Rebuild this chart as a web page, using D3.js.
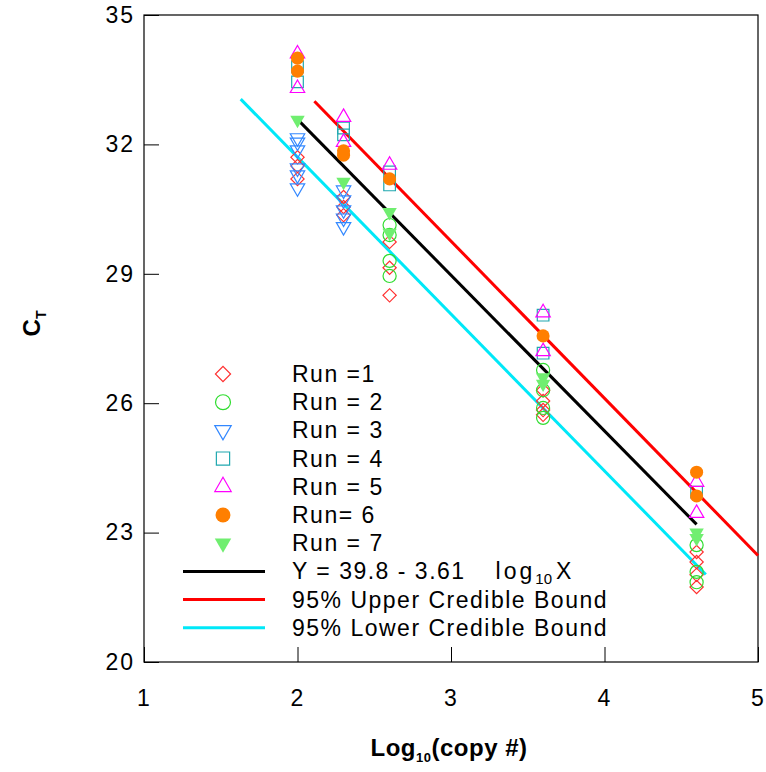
<!DOCTYPE html>
<html>
<head>
<meta charset="utf-8">
<script src="https://cdn.jsdelivr.net/npm/d3@7"></script>
<style>
  body { margin: 0; background: #fff; }
  text { font-family: "Liberation Sans", Arial, Helvetica, sans-serif; }
</style>
</head>
<body>
<div id="chart"></div>
<script>
// data: [log10(copy #), Ct]
var run1 = [[2, 31.7], [2, 31.5], [2, 31.2], [2.3, 30.78], [2.3, 30.55], [2.3, 30.36],
            [2.6, 29.74], [2.6, 29.14], [2.6, 28.5], [3.6, 26.3], [3.6, 26.05], [3.6, 25.84],
            [3.6, 25.73], [4.6, 22.55], [4.6, 22.32], [4.6, 22.02], [4.6, 21.74]];
var run2 = [[2.6, 30.13], [2.6, 29.9], [2.6, 29.3], [2.6, 28.95], [3.6, 26.77], [3.6, 26.3],
            [3.6, 25.89], [3.6, 25.66], [4.6, 22.71], [4.6, 22.09], [4.6, 21.85]];
var run3 = [[2, 32.15], [2, 32.05], [2, 31.87], [2, 31.45], [2, 31.29], [2, 30.99],
            [2.3, 30.94], [2.3, 30.71], [2.3, 30.48], [2.3, 30.29], [2.3, 30.09]];
var run4 = [[2, 33.8], [2, 33.45], [2.3, 32.38], [2.3, 32.22], [2.6, 31.36], [2.6, 31.06],
            [3.6, 28.04], [3.6, 27.16], [4.6, 23.94]];
var run5 = [[2, 34.1], [2, 33.3], [2.3, 32.63], [2.3, 32.05], [2.6, 31.52], [3.6, 28.1],
            [3.6, 27.2], [4.6, 24.17], [4.6, 23.45]];
var run6 = [[2, 34.0], [2, 33.7], [2.3, 31.85], [2.3, 31.75], [2.6, 31.2], [3.6, 27.56],
            [4.6, 24.4], [4.6, 23.85]];
var run7 = [[2, 32.57], [2.3, 31.13], [2.6, 30.43], [2.6, 29.95], [3.6, 26.6], [3.6, 26.45],
            [4.6, 23.0], [4.6, 22.87]];

var fitLine = [[2, 32.58], [4.6, 23.19]];
var upperBound = [[2.11, 33.0], [5, 22.47]];
var lowerBound = [[1.63, 33.05], [4.66, 22.03]];

var xTicks = [1, 2, 3, 4, 5];
var yTicks = [20, 23, 26, 29, 32, 35];

var runs = [
  {name: "Run =1", data: run1, shape: "diamond", color: "#ff3030", fill: false},
  {name: "Run = 2", data: run2, shape: "circle", color: "#30dd30", fill: false},
  {name: "Run = 3", data: run3, shape: "down", color: "#3388ff", fill: false},
  {name: "Run = 4", data: run4, shape: "square", color: "#20a8b0", fill: false},
  {name: "Run = 5", data: run5, shape: "up", color: "#ff00ff", fill: false},
  {name: "Run= 6", data: run6, shape: "circle", color: "#ff7f00", fill: true},
  {name: "Run = 7", data: run7, shape: "down", color: "#70ee70", fill: true}
];
var lines = [
  {name: "fit", data: fitLine, color: "#000000"},
  {name: "95% Upper Credible Bound", data: upperBound, color: "#ff0000"},
  {name: "95% Lower Credible Bound", data: lowerBound, color: "#00e8f8"}
];

var margin = {top: 15, right: 8, bottom: 110, left: 144},
    width = 766 - margin.left - margin.right,
    height = 772 - margin.top - margin.bottom;

var svg = d3.select("#chart")
  .append("svg")
    .attr("width", 766)
    .attr("height", 772)
  .append("g")
    .attr("transform", "translate(" + margin.left + "," + margin.top + ")");

var x = d3.scaleLinear().domain([1, 5]).range([0, width]);
var y = d3.scaleLinear().domain([20, 35]).range([height, 0]);

// axes with inward ticks
var xAxis = svg.append("g")
  .attr("transform", "translate(0," + height + ")")
  .call(d3.axisBottom(x).tickValues(xTicks).tickSize(-15).tickPadding(28).tickFormat(d3.format("d")));
var yAxis = svg.append("g")
  .call(d3.axisLeft(y).tickValues(yTicks).tickSize(-15).tickPadding(9).tickFormat(d3.format("d")));
[xAxis, yAxis].forEach(function(a) {
  a.select(".domain").remove();
  a.selectAll("line").attr("stroke", "#000").attr("stroke-width", 1);
  a.selectAll("text").style("font-size", "23px").style("letter-spacing", "2px").attr("fill", "#000");
});

// frame
svg.append("rect")
  .attr("width", width).attr("height", height)
  .attr("fill", "none").attr("stroke", "#000").attr("stroke-width", 1.2);

// regression and bound lines
var line = d3.line().x(function(d) { return x(d[0]); }).y(function(d) { return y(d[1]); });
svg.selectAll(".fitline")
  .data(lines)
  .enter().append("path")
    .attr("d", function(d) { return line(d.data); })
    .attr("stroke", function(d) { return d.color; })
    .attr("stroke-width", 3)
    .attr("fill", "none");

function symbolPath(shape, scale) {
  var s = scale || 1;
  if (shape == "diamond") return d3.symbol(d3.symbolSquare, 88 * s)();
  if (shape == "circle") return d3.symbol(d3.symbolCircle, 135 * s)();
  if (shape == "square") return d3.symbol(d3.symbolSquare, 135 * s)();
  return d3.symbol(d3.symbolTriangle, 90 * s)();
}
function symbolRotate(shape) {
  if (shape == "diamond") return 45;
  if (shape == "down") return 180;
  return 0;
}

runs.forEach(function(r) {
  svg.append("g").selectAll("path")
    .data(r.data)
    .enter().append("path")
      .attr("d", symbolPath(r.shape))
      .attr("transform", function(d) {
        return "translate(" + x(d[0]) + "," + y(d[1]) + ") rotate(" + symbolRotate(r.shape) + ")";
      })
      .attr("fill", r.fill ? r.color : "none")
      .attr("stroke", r.color)
      .attr("stroke-width", r.fill ? 0 : 1.2);
});

// legend
var legend = svg.append("g").attr("transform", "translate(0,359)");
var rowH = 28.2;
runs.forEach(function(r, i) {
  legend.append("path")
    .attr("d", symbolPath(r.shape, 1.3))
    .attr("transform", "translate(79," + (i * rowH) + ") rotate(" + symbolRotate(r.shape) + ")")
    .attr("fill", r.fill ? r.color : "none")
    .attr("stroke", r.color)
    .attr("stroke-width", r.fill ? 0 : 1.2);
  legend.append("text")
    .attr("x", 148).attr("y", i * rowH + 8)
    .style("font-size", "23px").style("letter-spacing", "1.5px")
    .text(r.name);
});
lines.forEach(function(l, j) {
  var yy = (runs.length + j) * rowH;
  legend.append("line")
    .attr("x1", 39).attr("x2", 121).attr("y1", yy).attr("y2", yy)
    .attr("stroke", l.color).attr("stroke-width", 3);
  var t = legend.append("text")
    .attr("x", 148).attr("y", yy + 8)
    .style("font-size", "23px").style("letter-spacing", "1.5px");
  if (j == 0) {
    t.append("tspan").text("Y = 39.8 - 3.61");
    t.append("tspan").attr("dx", 30).style("letter-spacing", "3px").text("log");
    t.append("tspan").attr("dy", 5).style("font-size", "15px").style("letter-spacing", "0px").text("10");
    t.append("tspan").attr("dy", -5).attr("dx", 4).text("X");
  } else {
    t.text(l.name);
  }
});

// axis titles
var xt = svg.append("text")
  .attr("x", width / 2 - 2).attr("y", height + 94)
  .attr("text-anchor", "middle")
  .style("font-size", "24px").style("font-weight", "bold").style("letter-spacing", "0.5px");
xt.append("tspan").text("Log");
xt.append("tspan").attr("dy", 6).style("font-size", "13px").text("10");
xt.append("tspan").attr("dy", -6).text("(copy #)");

var yt = svg.append("text")
  .attr("transform", "translate(-104," + (height / 2 - 15) + ") rotate(-90)")
  .attr("text-anchor", "middle")
  .style("font-size", "24px").style("font-weight", "bold");
yt.append("tspan").text("C");
yt.append("tspan").attr("dy", 6).style("font-size", "14px").text("T");
</script>
</body>
</html>
